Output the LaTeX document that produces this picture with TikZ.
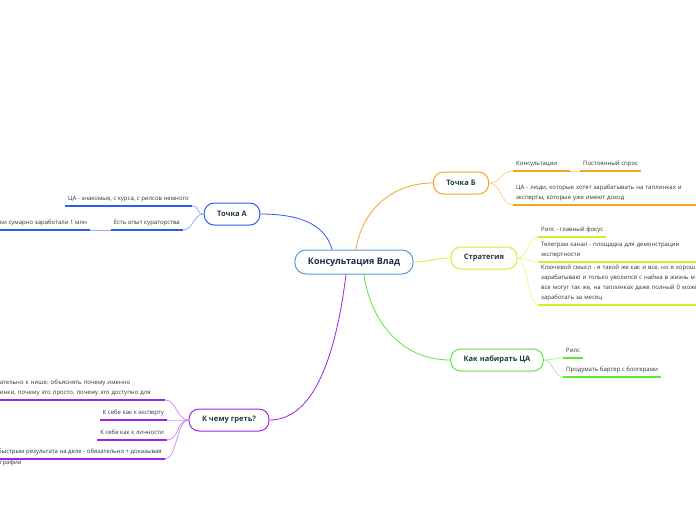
\documentclass[tikz,border=0pt]{standalone}
\usepackage{fontspec}
\setmainfont{Open Sans}
\usepackage{tikz}
\usetikzlibrary{calc}
\definecolor{mainblue}{HTML}{5A9BDC}
\definecolor{mainink}{HTML}{1B2B4B}
\definecolor{topicink}{HTML}{1E3D39}
\definecolor{leafink}{HTML}{333333}
\definecolor{brblue}{HTML}{2F5BF0}
\definecolor{brorange}{HTML}{F5A524}
\definecolor{brlime}{HTML}{D3F02A}
\definecolor{brgreen}{HTML}{5CE83C}
\definecolor{brpurple}{HTML}{A222E8}
\newcommand{\leaffont}{\fontsize{6}{10}\selectfont\frenchspacing}

\begin{document}
\begin{tikzpicture}[
x=1pt,y=-1pt,
central/.style={rectangle,rounded corners=11pt,draw=mainblue,line width=1pt,fill=white,minimum height=24pt,inner xsep=13pt,font=\bfseries\fontsize{9}{11}\selectfont,text=mainink},
topic/.style={rectangle,rounded corners=10pt,draw=#1,line width=1pt,fill=white,minimum height=22pt,inner xsep=13pt,font=\bfseries\fontsize{7.5}{9}\selectfont,text=topicink},
leaf/.style={inner xsep=3pt,inner ysep=2pt,align=left,font=\leaffont,text=leafink,execute at end node=\strut,append after command={(\tikzlastnode.south west) edge[draw=#1,line width=1.4pt] (\tikzlastnode.south east)}},
leaftext/.style={inner xsep=3pt,inner ysep=0pt,align=left,font=\leaffont,text=leafink},
link/.style={draw=#1,line width=0.8pt},
fork/.style={draw=#1!50,line width=0.8pt}
]
\useasboundingbox (0,0) rectangle (696,520);
\fill[white] (0,0) rectangle (696,520);
\node[central] (main) at (354,262) {Консультация Влад};
\node[topic=brblue] (ta) at (232,214) {Точка А};
\node[topic=brorange] (tb) at (461,183) {Точка Б};
\node[topic=brlime] (strat) at (484,258) {Стратегия};
\node[topic=brgreen] (kn) at (497,360) {Как набирать ЦА};
\node[topic=brpurple] (kg) at (229,420) {К чему греть?};
% Точка Б
\node[leaf=brorange,anchor=south west,text width=51pt] (kons) at (513,171) {Консультации};
\node[leaf=brorange,anchor=south west] (spros) at (580,171) {Постоянный спрос};
\node[leaf=brorange,anchor=south west,text width=180pt] (tbca) at (513,205) {ЦА - люди, которые хотят зарабатывать на таплинках и\\эксперты, которые уже имеют доход};
% Стратегия
\node[leaf=brlime,anchor=south west] (rils) at (538,237) {Рилс - главный фокус};
\node[leaf=brlime,anchor=south west,text width=170pt] (tg) at (538,262) {Телеграм канал - площадка для демонстрации\\экспертности};
\node[leaf=brlime,anchor=south west,text width=175pt] (kl) at (538,305) {Ключевой смысл - я такой же как и все, но я хорош\\зарабатываю и только уволился с найма в жизнь м\\все могут так же, на таплинках даже полный 0 може\\заработать за месяц};
% Как набирать ЦА
\node[leaf=brgreen,anchor=south west] (rils2) at (563,358) {Рилс};
\node[leaf=brgreen,anchor=south west] (barter) at (563,377) {Продумать бартер с блогерами};
% Точка А
\node[leaf=brblue,anchor=south east] (taca) at (192,206) {ЦА - знакомые, с курса, с рилсов немного};
\node[leaf=brblue,anchor=south east] (kur) at (183,230) {Есть опыт кураторства};
\node[leaf=brblue,anchor=south east] (mln) at (90,230) {ки сумарно заработали 1 млн};
% К чему греть?
\node[leaf=brpurple,anchor=south east,text width=162pt] (niche) at (165,400) {ательно к нише: объяснять почему именно\\инки, почему это просто, почему это доступно для};
\node[leaf=brpurple,anchor=south east] (expert) at (167,420) {К себе как к эксперту};
\node[leaf=brpurple,anchor=south east] (lich) at (167,440) {К себе как к личности};
\node[leaf=brpurple,anchor=south east] (res) at (165,459) {быстрым результата на деле - обязательно + доказывая};
\node[leaftext,anchor=north west] (res2) at (-3,460) {графии};
% ветки от центра
\draw[link=brblue] ($(main.north)+(-22,0)$) .. controls +(-6,-22) and +(45,0) .. (ta.east);
\draw[link=brorange] ($(main.north)+(2,0)$) .. controls +(6,-40) and +(-40,0) .. (tb.west);
\draw[link=brlime] (main.east) .. controls +(14,0) and +(-14,0) .. (strat.west);
\draw[link=brgreen] ($(main.south)+(10,0)$) .. controls +(6,45) and +(-50,0) .. (kn.west);
\draw[link=brpurple] ($(main.south)+(-8,0)$) .. controls +(-10,80) and +(45,0) .. (kg.east);
% вилки к листьям
\draw[fork=brorange] (tb.east) .. controls +(12,0) and +(-12,0) .. (kons.south west);
\draw[fork=brorange] (tb.east) .. controls +(12,0) and +(-12,0) .. (tbca.south west);
\draw[fork=brorange] (kons.south east) -- (spros.south west);
\draw[fork=brlime] (strat.east) .. controls +(10,0) and +(-10,0) .. (rils.south west);
\draw[fork=brlime] (strat.east) .. controls +(10,0) and +(-10,0) .. (tg.south west);
\draw[fork=brlime] (strat.east) .. controls +(10,0) and +(-10,0) .. (kl.south west);
\draw[fork=brgreen] (kn.east) .. controls +(9,0) and +(-9,0) .. (rils2.south west);
\draw[fork=brgreen] (kn.east) .. controls +(9,0) and +(-9,0) .. (barter.south west);
\draw[fork=brblue] (ta.west) .. controls +(-8,0) and +(8,0) .. (taca.south east);
\draw[fork=brblue] (ta.west) .. controls +(-10,0) and +(10,0) .. (kur.south east);
\draw[fork=brblue] (kur.south west) -- (mln.south east);
\draw[fork=brpurple] (kg.west) .. controls +(-12,0) and +(12,0) .. (niche.south east);
\draw[fork=brpurple] (kg.west) .. controls +(-12,0) and +(12,0) .. (expert.south east);
\draw[fork=brpurple] (kg.west) .. controls +(-12,0) and +(12,0) .. (lich.south east);
\draw[fork=brpurple] (kg.west) .. controls +(-12,0) and +(12,0) .. (res.south east);
\end{tikzpicture}
\end{document}
